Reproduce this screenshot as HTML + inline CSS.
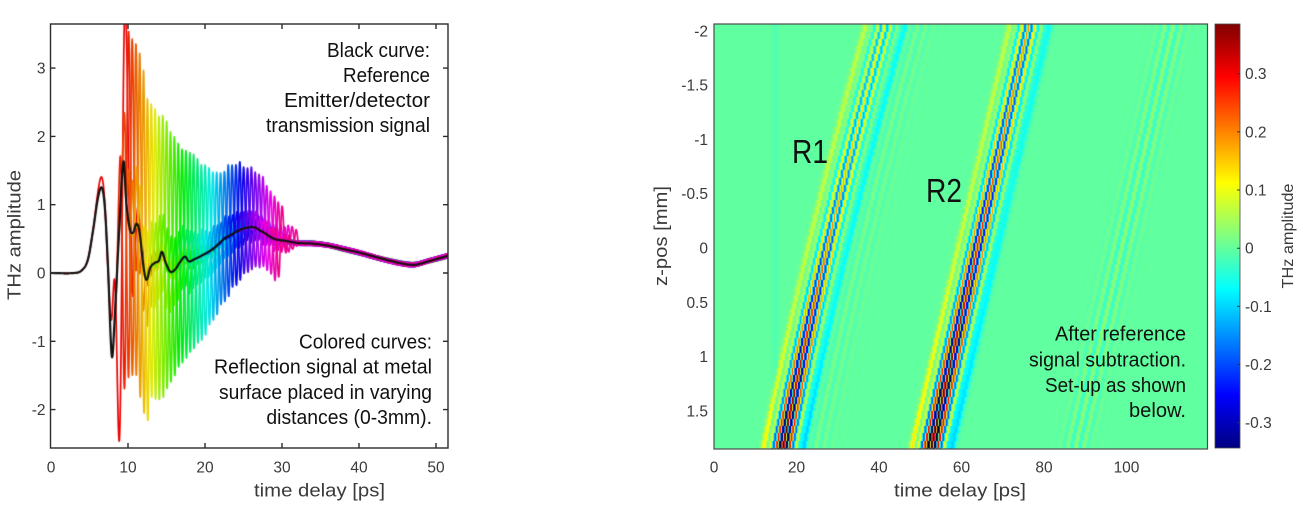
<!DOCTYPE html>
<html><head><meta charset="utf-8">
<style>
html,body{margin:0;padding:0;background:#fff;}
#wrap{position:relative;width:1305px;height:508px;overflow:hidden;background:#fff;font-family:"Liberation Sans",Arial,sans-serif;}
canvas{position:absolute;display:block;}
#lc{left:50px;top:24px;}
#hm{left:714px;top:24px;background:rgb(97,255,158);}
#cb{position:absolute;left:1215px;top:24px;width:25px;height:424px;background:linear-gradient(to bottom,#800000 0%,#ff0000 12.5%,#ffff00 37.5%,#00ffff 62.5%,#0000ff 87.5%,#000080 100%);}
svg{position:absolute;left:0;top:0;}
</style></head>
<body><div id="wrap">
<canvas id="lc" width="398" height="424"></canvas>
<canvas id="hm" width="494" height="425"></canvas>
<div id="cb"></div>
<svg width="1305" height="508" viewBox="0 0 1305 508" font-family="Liberation Sans, Arial, sans-serif">
<g stroke="#2b2b2b" stroke-width="1.4" fill="none">
<rect x="50.5" y="24" width="397.5" height="424"/>
<path d="M128 448v-5M205 448v-5M282 448v-5M359 448v-5M436 448v-5M128 24v5M205 24v5M282 24v5M359 24v5M436 24v5M50.5 68.1h5M50.5 136.4h5M50.5 204.7h5M50.5 273h5M50.5 341.3h5M50.5 409.6h5M448 68.1h-5M448 136.4h-5M448 204.7h-5M448 273h-5M448 341.3h-5M448 409.6h-5"/>
</g>
<g font-size="15.5" fill="#3a3a3a" text-anchor="middle">
<text x="51" y="472.5">0</text><text x="128" y="472.5">10</text><text x="205" y="472.5">20</text><text x="282" y="472.5">30</text><text x="359" y="472.5">40</text><text x="436" y="472.5">50</text>
</g>
<g font-size="15.5" fill="#3a3a3a" text-anchor="end">
<text x="45.5" y="73.6">3</text><text x="45.5" y="141.9">2</text><text x="45.5" y="210.2">1</text><text x="45.5" y="278.5">0</text><text x="45.5" y="346.8">-1</text><text x="45.5" y="415.1">-2</text>
</g>
<text x="254" y="496.5" font-size="18.5" fill="#3a3a3a" textLength="131" lengthAdjust="spacingAndGlyphs">time delay [ps]</text>
<text transform="translate(20.7,235) rotate(-90)" text-anchor="middle" font-size="18.5" fill="#3a3a3a" textLength="130" lengthAdjust="spacingAndGlyphs">THz amplitude</text>
<g font-size="20" fill="#111" text-anchor="end">
<text x="430" y="57" textLength="103" lengthAdjust="spacingAndGlyphs">Black curve:</text>
<text x="430" y="82" textLength="87" lengthAdjust="spacingAndGlyphs">Reference</text>
<text x="430" y="107" textLength="146" lengthAdjust="spacingAndGlyphs">Emitter/detector</text>
<text x="430" y="132" textLength="164" lengthAdjust="spacingAndGlyphs">transmission signal</text>
<text x="432" y="348.3" textLength="133" lengthAdjust="spacingAndGlyphs">Colored curves:</text>
<text x="432" y="373.5" textLength="218" lengthAdjust="spacingAndGlyphs">Reflection signal at metal</text>
<text x="432" y="399" textLength="213" lengthAdjust="spacingAndGlyphs">surface placed in varying</text>
<text x="432" y="424" textLength="165.6" lengthAdjust="spacingAndGlyphs">distances (0-3mm).</text>
</g>
<rect x="714" y="24" width="493.5" height="425" fill="none" stroke="#4a4a4a" stroke-width="1.2"/>
<rect x="1215" y="24" width="25" height="424" fill="none" stroke="#4a4a4a" stroke-width="0.8"/>
<g stroke="#333" stroke-width="1">
<path d="M1240 73.7h-3M1240 131.9h-3M1240 190h-3M1240 248.2h-3M1240 306.4h-3M1240 364.5h-3M1240 422.7h-3"/>
</g>
<g font-size="15.5" fill="#3a3a3a" text-anchor="middle">
<text x="714" y="472.5">0</text><text x="796.5" y="472.5">20</text><text x="879" y="472.5">40</text><text x="961.5" y="472.5">60</text><text x="1044" y="472.5">80</text><text x="1126.5" y="472.5">100</text>
</g>
<g font-size="15.5" fill="#3a3a3a" text-anchor="end">
<text x="708" y="36.3">-2</text><text x="708" y="90.6">-1.5</text><text x="708" y="144.9">-1</text><text x="708" y="199.2">-0.5</text><text x="708" y="253.5">0</text><text x="708" y="307.8">0.5</text><text x="708" y="362.1">1</text><text x="708" y="416.4">1.5</text>
</g>
<g font-size="15.5" fill="#3a3a3a" text-anchor="start">
<text x="1245" y="79.2">0.3</text><text x="1245" y="137.4">0.2</text><text x="1245" y="195.5">0.1</text><text x="1245" y="253.7">0</text><text x="1245" y="311.9">-0.1</text><text x="1245" y="370">-0.2</text><text x="1245" y="428.2">-0.3</text>
</g>
<text x="894" y="496.5" font-size="18.5" fill="#3a3a3a" textLength="132" lengthAdjust="spacingAndGlyphs">time delay [ps]</text>
<text transform="translate(667,236) rotate(-90)" text-anchor="middle" font-size="18.5" fill="#3a3a3a" textLength="100" lengthAdjust="spacingAndGlyphs">z-pos [mm]</text>
<text transform="translate(1293,236) rotate(-90)" text-anchor="middle" font-size="15.5" fill="#3a3a3a" textLength="105" lengthAdjust="spacingAndGlyphs">THz amplitude</text>
<g fill="#111">
<text x="792" y="163" font-size="33" textLength="36" lengthAdjust="spacingAndGlyphs">R1</text>
<text x="926" y="202" font-size="33" textLength="36" lengthAdjust="spacingAndGlyphs">R2</text>
</g>
<g font-size="20" fill="#111" text-anchor="end">
<text x="1186" y="340.5" textLength="131" lengthAdjust="spacingAndGlyphs">After reference</text>
<text x="1186" y="366.5" textLength="157" lengthAdjust="spacingAndGlyphs">signal subtraction.</text>
<text x="1186" y="392" textLength="141" lengthAdjust="spacingAndGlyphs">Set-up as shown</text>
<text x="1186" y="417" textLength="57" lengthAdjust="spacingAndGlyphs">below.</text>
</g>
</svg>
</div>
<script>
(function(){
function herm(p,x){
  var n=p.length;
  if(x<=p[0][0])return p[0][1];
  if(x>=p[n-1][0])return p[n-1][1];
  var i=0;while(i<n-2&&x>p[i+1][0])i++;
  var p0=p[i>0?i-1:i],p1=p[i],p2=p[i+1],p3=p[i+2<n?i+2:i+1];
  var h=p2[0]-p1[0],s=(x-p1[0])/h;
  var m1=(p2[1]-p0[1])/(p2[0]-p0[0]||1)*h, m2=(p3[1]-p1[1])/(p3[0]-p1[0]||1)*h;
  var s2=s*s,s3=s2*s;
  return (2*s3-3*s2+1)*p1[1]+(s3-2*s2+s)*m1+(-2*s3+3*s2)*p2[1]+(s3-s2)*m2;
}
function lin(p,x){
  var n=p.length;
  if(x<=p[0][0])return p[0][1];
  if(x>=p[n-1][0])return p[n-1][1];
  for(var i=0;i<n-1;i++){if(x<=p[i+1][0]){var f=(x-p[i][0])/(p[i+1][0]-p[i][0]);return p[i][1]+f*(p[i+1][1]-p[i][1]);}}
  return p[n-1][1];
}
var ref=[[0,0],[3,0],[4,0.04],[4.8,0.2],[5.5,0.65],[6.1,1.1],[6.6,1.25],[7.0,0.95],[7.4,0.1],[7.9,-1.22],[8.3,-0.6],[8.8,0.5],[9.4,1.63],[9.8,1.0],[10.3,0.62],[10.7,0.6],[11.1,0.72],[11.5,0.6],[12.0,0.1],[12.4,-0.1],[12.9,0.08],[13.5,0.15],[14.0,0.18],[14.4,0.31],[14.9,0.15],[15.5,0.02],[16.1,0.05],[16.7,0.15],[17.4,0.24],[17.9,0.17],[18.6,0.2],[19.5,0.25],[21,0.35],[22.5,0.5],[24,0.6],[25,0.65],[26.3,0.67],[27.5,0.6],[29,0.5],[30.5,0.47],[32,0.44],[34,0.43],[36,0.4],[38,0.35],[40,0.3],[42,0.24],[44,0.18],[46,0.13],[47.3,0.12],[49,0.17],[51.8,0.26]];
var topE=[[9.6,3.9],[10.2,3.45],[11,3.4],[11.8,3.1],[12.5,2.6],[13.5,2.38],[14.5,2.3],[15.5,2.1],[16.5,1.9],[17.5,1.78],[18.5,1.75],[19.5,1.6],[20.5,1.55],[21.5,1.45],[22.5,1.5],[23.5,1.6],[24.5,1.6],[25.5,1.55],[26.5,1.5],[27.5,1.4],[28.5,1.2],[29.5,1.05],[30.2,0.95],[31,0.7]];
var botE=[[8.8,-2.6],[9.5,-1.6],[10,-1.5],[11,-1.5],[12,-2.0],[12.5,-2.25],[13,-1.8],[14,-1.9],[15,-1.7],[15.6,-1.6],[16.5,-1.4],[17.5,-1.25],[18.5,-1.1],[19.5,-1.0],[20.5,-0.8],[21.5,-0.6],[22.5,-0.42],[23.5,-0.25],[24.5,-0.1],[25.5,0.02],[26.5,0.08],[27.5,0.1],[28.5,0.0],[29.2,-0.15],[30,0.1]];
var cv=document.getElementById('lc');
if(cv&&cv.getContext){
var ctx=cv.getContext('2d');
function X(t){return 51+7.7*t-50;}
function Y(v){return 273-68.3*v-24;}
var norm=0;for(var s=-1;s<=1;s+=0.001){var w=Math.sin(2*Math.PI*s)*Math.exp(-(s/0.6)*(s/0.6));if(w>norm)norm=w;}
function base(t){return herm(ref,t)*(1+0.12*Math.exp(-((t-6.6)/0.8)*((t-6.6)/0.8)));}
ctx.lineJoin='round';ctx.lineCap='round';
var N=42;
for(var i=0;i<N;i++){
  var d=9.3+i*0.5;
  var P=1.0+0.8*Math.exp(-(d-9.3)/0.5);
  var tp=d+P/4,tt=d-P/4;
  var U=Math.max(0.05,lin(topE,tp)-base(tp));
  var L=Math.max(0.05,base(tt)-lin(botE,tt));
  var hue=(d-9.3)/20.5*325;
  ctx.strokeStyle='hsl('+hue.toFixed(1)+',100%,46%)';
  ctx.lineWidth=1.7;
  var ph1=i*1.37,ph2=i*2.71;
  var tstart=(i===0)?0:Math.max(0,d-1.5);
  ctx.beginPath();
  var first=true;
  for(var t=tstart;t<=51.9;t+=0.035){
    var u=(t-d)/P;
    var w=Math.sin(2*Math.PI*u)*Math.exp(-(u/0.6)*(u/0.6))/norm;
    var v=base(t)+(w>0?U*w:L*w);
    var u2=(t-d-1.8);
    var w2=Math.sin(2*Math.PI*u2)*Math.exp(-(u2/0.6)*(u2/0.6))/norm;
    v+=(w2>0?0.22:0.12)*w2;
    var sm=t<10?0:Math.min(1,(t-10)/3);
    v+=sm*(0.02*Math.sin(t*5.3+ph1)+0.014*Math.sin(t*11.1+ph2));
    var x=X(t),y=Y(v);
    if(first){ctx.moveTo(x,y);first=false;}else ctx.lineTo(x,y);
  }
  ctx.stroke();
}
ctx.strokeStyle='#111';ctx.lineWidth=2.2;
ctx.beginPath();
for(var t=0;t<=51.9;t+=0.03){var x=X(t),y=Y(herm(ref,t));if(t===0)ctx.moveTo(x,y);else ctx.lineTo(x,y);}
ctx.stroke();
}
var hc=document.getElementById('hm');
if(hc&&hc.getContext){
var hx=hc.getContext('2d');
var W=494,H=425;
var im=hx.createImageData(W,H);
function cl(a){return a<0?0:(a>1?1:a);}
function band(u,A){
  var k=Math.max(0.6,A/0.45);
  return A*Math.exp(-(u/2.5)*(u/2.5))*Math.cos(2*Math.PI*u/1.6)
   +k*(0.11*Math.exp(-((u+4.6)/0.8)*((u+4.6)/0.8))-0.1*Math.exp(-((u-4.9)/0.9)*((u-4.9)/0.9)));
}
for(var py=0;py<H;py++){
  var row=Math.floor(py/7.3);
  var zc=-2.064+(row*7.3+3.65)/108.6;
  var c1=27.4-6.3*zc+0.25*zc*zc, c2=63.8-6.1*zc, c3=c2+35;
  var fr=Math.min(1,Math.max(0,(zc+2.07)/3.92));
  var A1=0.13+0.34*Math.pow(fr,2.0), A2=0.2+0.3*Math.pow(fr,1.6);
  for(var px=0;px<W;px++){
    var t=(px+0.5)/4.125;
    var v=band(t-c1,A1)+band(t-c2,A2);
    var u3=t-c3;v+=0.035*Math.exp(-(u3/3.5)*(u3/3.5))*Math.cos(2*Math.PI*u3/2.0);
    var u4=t-c1-8;v+=0.018*Math.exp(-(u4/4)*(u4/4))*Math.cos(2*Math.PI*u4/2.0);
    v-=0.015*Math.exp(-((t-14.8)/0.6)*((t-14.8)/0.6));
    var f=(v+0.3405)/0.7259;
    var r=cl(Math.min(4*f-1.5,-4*f+4.5)),g=cl(Math.min(4*f-0.5,-4*f+3.5)),b=cl(Math.min(4*f+0.5,-4*f+2.5));
    var o=(py*W+px)*4;
    im.data[o]=r*255;im.data[o+1]=g*255;im.data[o+2]=b*255;im.data[o+3]=255;
  }
}
hx.putImageData(im,0,0);
}
})();
</script>
</body></html>
